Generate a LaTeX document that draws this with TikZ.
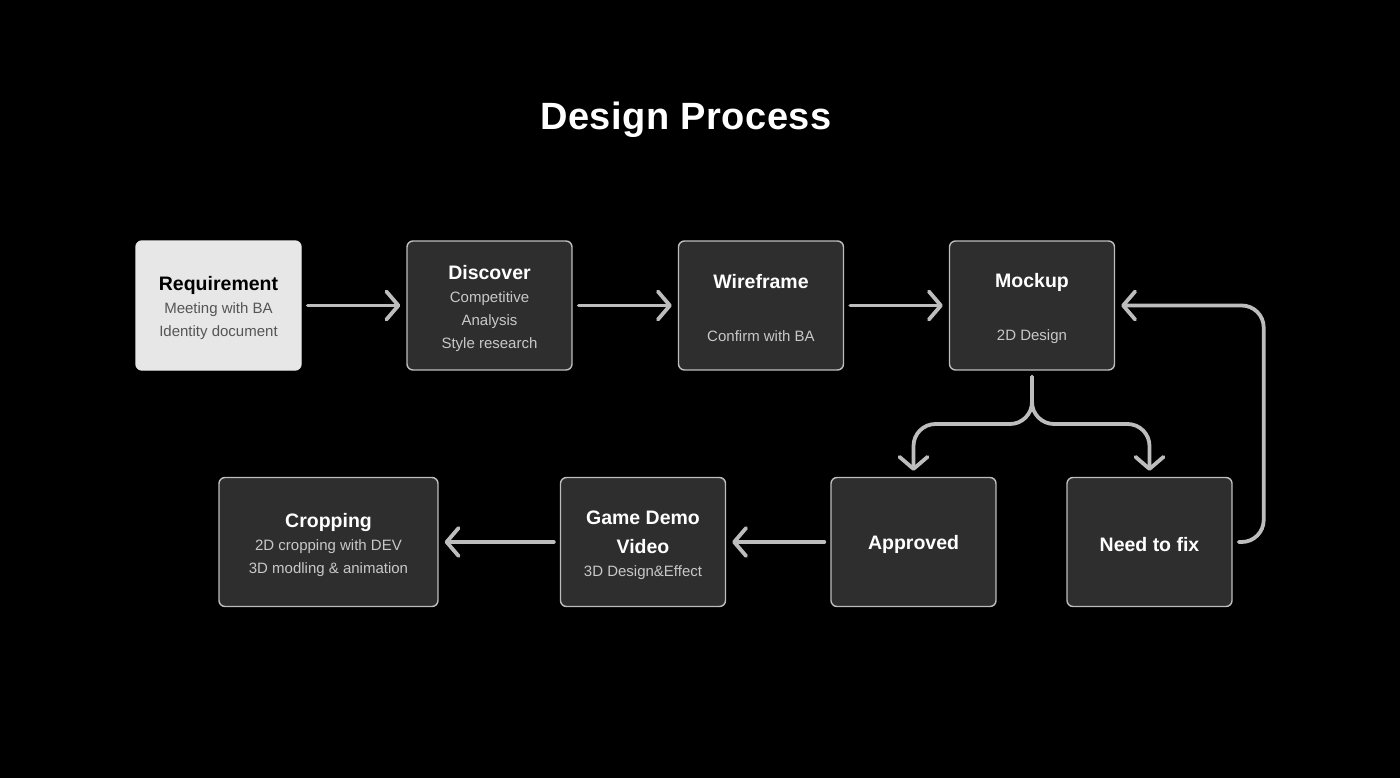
\documentclass[tikz,border=0pt]{standalone}
\usepackage{fontspec}
\setmainfont{Liberation Sans}
\usetikzlibrary{arrows.meta}
\definecolor{boxfill}{HTML}{2E2E2E}
\definecolor{boxline}{HTML}{BDBDBD}
\definecolor{light}{HTML}{E7E7E7}
\definecolor{subtext}{HTML}{C8C8C8}
\definecolor{reqsub}{HTML}{555555}
\tikzset{
  box/.style={draw=boxline, line width=1.4pt, fill=boxfill, rounded corners=6pt,
    minimum width=165pt, minimum height=129pt, inner sep=0pt, align=center,
    text=subtext, font=\fontsize{15}{23}\selectfont},
  flow/.style={draw=boxline, line width=3.8pt, line cap=round,
    arrows={-Straight Barb[length=12pt,width=28pt,line cap=round,line join=round]},
    shorten <=6pt, shorten >=6pt},
}
\newcommand{\hd}[1]{{\fontsize{19.5}{23}\selectfont\bfseries\color{white}\rule{0pt}{20pt}#1}}
\begin{document}
\begin{tikzpicture}[x=1pt,y=-1pt]
% Hintergrund
\fill[black] (0,0) rectangle (1400,778);
\useasboundingbox (0,0) rectangle (1400,778);
% Titel
\node[font=\fontsize{38}{40}\selectfont\bfseries\addfontfeatures{LetterSpace=1.3}, text=white] (title) at (686,120) {Design Process};
% Boxen oben
\node[box, fill=light, draw=light, text=reqsub] (req) at (218.5,305.5)
  {{\fontsize{19.5}{23}\selectfont\bfseries\color{black}\rule{0pt}{20pt}Requirement}\\Meeting with BA\\Identity document};
\node[box] (disc) at (489.5,305.5) {\hd{Discover}\\Competitive\\Analysis\\Style research};
\node[box] (wire) at (761,305.5) {\hd{Wireframe}\\[30pt]Confirm with BA};
\node[box] (mock) at (1032,305.5) {\hd{Mockup}\\[30pt]2D Design};
% Boxen unten
\node[box, minimum width=219pt] (crop) at (328.5,542) {\hd{Cropping}\\2D cropping with DEV\\3D modling \& animation};
\node[box] (game) at (643,542) {\hd{Game Demo}\\[6pt]\hd{Video}\\3D Design\&Effect};
\node[box] (appr) at (913.5,542) {\hd{Approved}};
\node[box] (fix) at (1149.5,542) {\hd{Need to fix}};
% Pfeile
\draw[flow] (req) -- (disc);
\draw[flow] (disc) -- (wire);
\draw[flow] (wire) -- (mock);
\draw[flow] (appr) -- (game);
\draw[flow] (game) -- (crop);
% Verzweigung
\coordinate (split) at (1032,424);
\draw[flow, rounded corners=22pt] (mock.south) -- (split) -- (split -| appr.north) -- (appr.north);
\draw[flow, rounded corners=22pt] (mock.south) -- (split) -- (split -| fix.north) -- (fix.north);
% Rueckfuehrung
\draw[flow, rounded corners=22pt] (fix.east) -- ++(31,0) |- (mock.east);
\end{tikzpicture}
\end{document}
